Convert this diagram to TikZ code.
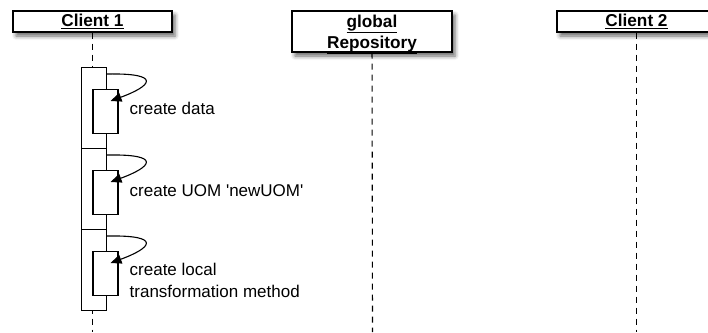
\documentclass[tikz,border=0pt]{standalone}
\usepackage{fontspec}
\setmainfont{Liberation Sans}
\usetikzlibrary{shadows.blur,arrows.meta,calc}
\tikzset{
  header/.style={draw, fill=white, line width=1.3pt, minimum height=21pt,
    minimum width=159pt, inner sep=0pt, align=center,
    font=\fontsize{17.2}{21}\selectfont\bfseries,
    blur shadow={shadow xshift=3pt, shadow yshift=-4pt,
      shadow blur radius=4pt, shadow opacity=60}},
  lifeline/.style={line width=1.1pt, dash pattern=on 6pt off 5pt},
  activation/.style={draw, fill=white, line width=1.2pt, minimum width=25pt,
    inner sep=0pt},
  selfcall/.style={line width=1.1pt, -{Triangle[length=11pt,width=9pt]}},
  note/.style={font=\fontsize{17}{21.5}\selectfont, align=left,
    anchor=base west, inner sep=0pt},
}
\begin{document}
\begin{tikzpicture}[x=1pt,y=-1pt]
\useasboundingbox (0,0) rectangle (708,332);
\clip (0,0) rectangle (708,332);

% participants
\node[header] (c1) at (92.5,21.5) {\underline{Client 1}};
\node[header, minimum height=41pt, minimum width=160pt] (repo) at (372,31.5) {};
\node[font=\fontsize{17.2}{21}\selectfont\bfseries, inner sep=0pt, anchor=base]
  (repotop) at (372,27) {\underline{global}};
\node[font=\fontsize{17.2}{21}\selectfont\bfseries, inner sep=0pt, anchor=base]
  (repobot) at (372,48) {\underline{Repository}};
\node[header] (c2) at (636.5,21.5) {\underline{Client 2}};

% lifelines
\coordinate (c1end) at (92.5,332);
\coordinate (repoend) at (372.5,332);
\coordinate (c2end) at (636.5,332);
\draw[lifeline] (c1) -- (c1end);
\draw[lifeline] (repo) -- (repoend);
\draw[lifeline] (c2) -- (c2end);

% activations on Client 1
\foreach \i/\y in {1/67, 2/148, 3/229} {
  \node[activation, minimum height=81pt, anchor=north west] (o\i) at (80.8,\y) {};
  \node[activation, minimum height=44pt, anchor=north west] (n\i) at (92.3,\y+22) {};
  \coordinate (s\i) at ($(o\i.north east)+(0,7)$);
  \coordinate (e\i) at ($(n\i.north east)+(-8,12)$);
  \draw[selfcall] (s\i) .. controls ($(s\i)+(56,-1)$) and ($(e\i)+(41,-15)$) .. (e\i);
}

% messages
\node[note] (l1) at (129.5,114) {create data};
\node[note] (l2) at (129.5,196) {create UOM \textquotesingle newUOM\textquotesingle};
\node[note] (l3) at (129.5,297) {create local\\transformation method};
\end{tikzpicture}
\end{document}
